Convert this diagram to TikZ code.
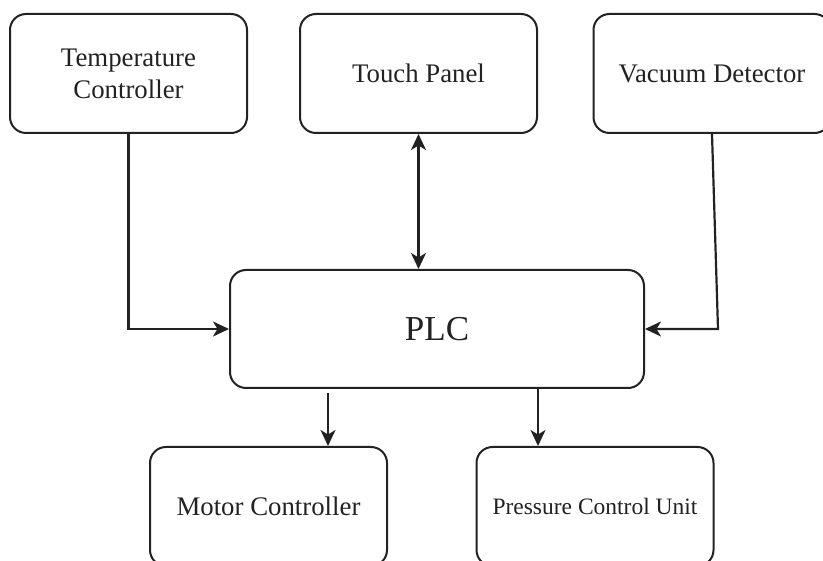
\documentclass[tikz,border=0pt]{standalone}
\usepackage{fontspec}
\setmainfont{Liberation Serif}
\usetikzlibrary{arrows.meta}
\definecolor{ink}{HTML}{222222}
\tikzset{
  blk/.style={draw=ink, line width=2pt, rounded corners=16pt, inner sep=0pt,
    minimum width=237pt, minimum height=119pt, align=center, text=ink,
    font=\fontsize{26.8pt}{32pt}\selectfont},
  conn/.style={draw=ink, line width=2.2pt},
  tip/.style={},
  arr/.style={conn, -{Stealth[length=16pt,width=15pt,inset=4.5pt]}},
  darr/.style={conn, {Stealth[length=16pt,width=15pt,inset=4.5pt]}-{Stealth[length=16pt,width=15pt,inset=4.5pt]}}
}
\begin{document}
\begin{tikzpicture}[x=1pt,y=-1pt]
\useasboundingbox (0,0) rectangle (823,561);
\clip (0,0) rectangle (823,561);
\fill[white] (0,0) rectangle (823,561);
\node[blk] (temp) at (128.5,73.5) {Temperature\\Controller};
\node[blk] (touch) at (418.5,73.5) {Touch Panel};
\node[blk] (vac) at (712,73.5) {Vacuum Detector};
\node[blk, minimum width=414pt, minimum height=118pt, font=\fontsize{35pt}{40pt}\selectfont] (plc) at (437,329) {PLC};
\node[blk] (mot) at (268.5,506.5) {Motor Controller};
\node[blk, font=\fontsize{23.5pt}{28pt}\selectfont] (pres) at (595,506.5) {Pressure Control Unit};
\coordinate (vbend) at (718,329);
\coordinate (m1) at (328,393);
\coordinate (p1) at (538,389);
\draw[arr] (temp.south) |- (plc.west);
\draw[darr] (touch.south) -- (touch.south |- plc.north);
\draw[arr] (vac.south) -- (vbend) -- (plc.east);
\draw[arr] (m1) -- (m1 |- mot.north);
\draw[arr] (p1) -- (p1 |- pres.north);
\end{tikzpicture}
\end{document}
